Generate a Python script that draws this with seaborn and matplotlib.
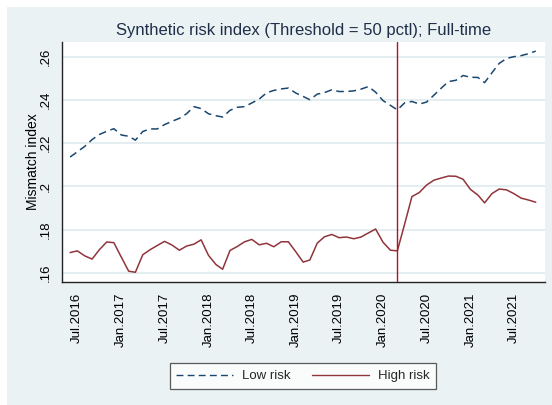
import numpy as np
import pandas as pd
import matplotlib
matplotlib.use("Agg")
import matplotlib.pyplot as plt
import matplotlib.dates as mdates
from matplotlib.ticker import FixedLocator
from matplotlib.lines import Line2D
import seaborn as sns

# ---------------- data ----------------
start_month = "2016-06-01"
n_months = 65
low_risk = [
    .2136, .2160, .2185, .2217, .2240, .2255, .2267, .2238, .2232, .2214,
    .2254, .2266, .2266, .2286, .2301, .2315, .2336, .2369, .2360, .2336,
    .2327, .2321, .2352, .2366, .2369, .2386, .2404, .2433, .2444, .2451,
    .2455, .2432, .2416, .2401, .2427, .2434, .2447, .2439, .2439, .2442,
    .2450, .2462, .2436, .2397, .2375, .2354, .2387, .2393, .2381, .2390,
    .2422, .2455, .2485, .2491, .2513, .2505, .2504, .2480, .2526, .2569,
    .2592, .2600, .2605, .2614, .2626,
]
high_risk = [
    .1694, .1702, .1679, .1664, .1707, .1743, .1740, .1673, .1608, .1603,
    .1684, .1707, .1727, .1746, .1729, .1705, .1724, .1733, .1753, .1681,
    .1639, .1617, .1704, .1722, .1744, .1755, .1730, .1737, .1721, .1744,
    .1744, .1698, .1650, .1660, .1738, .1767, .1778, .1763, .1766, .1758,
    .1766, .1785, .1803, .1742, .1705, .1702, .1828, .1953, .1972, .2006,
    .2029, .2039, .2048, .2047, .2033, .1986, .1960, .1924, .1967, .1988,
    .1984, .1967, .1946, .1937, .1927,
]
series_names = ["Low risk", "High risk"]
event_date = "2020-03-01"
y_ticks = [.16, .18, .20, .22, .24, .26]
y_tick_labels = [".16", ".18", ".2", ".22", ".24", ".26"]
title = "Synthetic risk index (Threshold = 50 pctl); Full-time"
y_label = "Mismatch index"

# ---------------- build frame ----------------
dates = pd.date_range(start_month, periods=n_months, freq="MS")
df = pd.DataFrame({
    "date": np.concatenate([dates, dates]),
    "value": low_risk + high_risk,
    "series": [series_names[0]] * n_months + [series_names[1]] * n_months,
})

# ---------------- style ----------------
sns.set_style("white")
plt.rcParams["font.family"] = ["Liberation Sans", "DejaVu Sans"]

BG = "#EAF2F3"
NAVY = "#1A476F"
MAROON = "#90353B"
TEXTC = "#1f2f4a"

W, H = 552, 405
fig = plt.figure(figsize=(W / 100, H / 100), dpi=100, facecolor="white")
fig.patches.append(plt.Rectangle((7 / W, 0), 1 - 7 / W, 1 - 7 / H,
                                 transform=fig.transFigure, facecolor=BG,
                                 edgecolor="none", zorder=-10))

left, right, top, bottom = 62, 545.3, 42, 282
ax = fig.add_axes([left / W, 1 - bottom / H, (right - left) / W, (bottom - top) / H])
ax.set_facecolor("white")

sns.lineplot(data=df, x="date", y="value", hue="series", style="series",
             palette={series_names[0]: NAVY, series_names[1]: MAROON},
             dashes={series_names[0]: (5, 3), series_names[1]: ""},
             linewidth=1.1, ax=ax, legend=False)

ax.axvline(pd.Timestamp(event_date), color="#B0102A", linewidth=1.0, zorder=3)

xmin, xmax = pd.Timestamp("2016-04-28"), pd.Timestamp("2021-11-10")
ax.xaxis.set_major_locator(mdates.MonthLocator(bymonth=[1, 7]))
ax.xaxis.set_major_formatter(mdates.DateFormatter("%b.%Y"))
ax.set_xlim(xmin, xmax)
ax.set_ylim(.1558, .2668)
for lab in ax.get_xticklabels():
    lab.set_rotation(90)

ax.yaxis.set_major_locator(FixedLocator(y_ticks))
ax.set_yticklabels(y_tick_labels, rotation=90, va="center")

ax.tick_params(axis="both", which="major", labelsize=9.5, colors="#222222",
               labelcolor="black", length=4.5, width=0.9, direction="out", pad=3)

ax.grid(axis="y", color="#E4EDEF", linewidth=1.5)
ax.grid(axis="x", visible=False)
ax.set_axisbelow(True)

for s in ["top", "right"]:
    ax.spines[s].set_visible(False)
for s in ["left", "bottom"]:
    ax.spines[s].set_color("#222222")
    ax.spines[s].set_linewidth(1.0)

ax.set_xlabel("")
ax.set_ylabel(y_label, fontsize=10, color="black")
ax.yaxis.set_label_coords(-(62 - 40) / (right - left), 0.5)

fig.text((left + right) / 2 / W, 1 - 30.5 / H, title, ha="center", va="center",
         fontsize=12, color=TEXTC)

handles = [Line2D([], [], color=NAVY, linewidth=1.0, dashes=(5, 3)),
           Line2D([], [], color=MAROON, linewidth=1.0)]
leg = fig.legend(handles, series_names, loc="center", ncol=2,
                 bbox_to_anchor=(303 / W, 1 - 376 / H), frameon=True,
                 fancybox=False, fontsize=9.5, handlelength=4.3,
                 handletextpad=0.7, columnspacing=1.6, borderpad=0.5)
leg.get_frame().set_edgecolor("#333333")
leg.get_frame().set_linewidth(0.9)
leg.get_frame().set_facecolor("white")

fig.savefig("out.png", dpi=100, facecolor=fig.get_facecolor())
